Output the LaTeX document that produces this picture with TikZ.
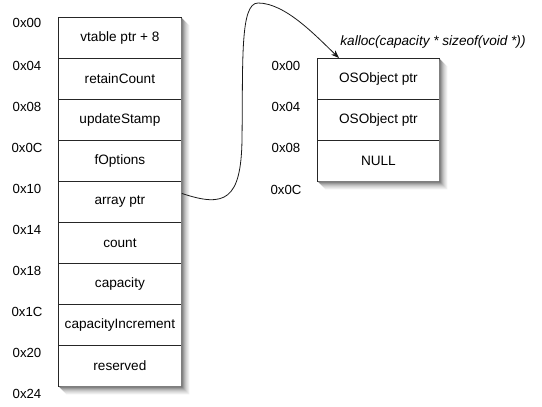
\documentclass[tikz,border=0pt]{standalone}
\usepackage{fontspec}
\setmainfont{Liberation Sans}
\usetikzlibrary{arrows.meta,positioning}
\begin{document}
\begin{tikzpicture}[x=1pt,y=-1pt,
  cell/.style={draw=black!85,line width=0.8pt,fill=white,minimum width=123pt,minimum height=41pt,inner sep=0pt,anchor=north west,font=\fontsize{13.6}{15}\selectfont},
  addr/.style={font=\fontsize{13.2}{15}\selectfont,anchor=center},
  ptr/.style={line width=0.8pt,black!90,-{Stealth[length=8pt,width=6pt]}}]
\useasboundingbox (0,0) rectangle (542,407);
% left table
\node[cell] (c0) at (58,17) {vtable ptr + 8};
\node[cell] (c1) at (58,58) {retainCount};
\node[cell] (c2) at (58,99) {updateStamp};
\node[cell] (c3) at (58,140) {fOptions};
\node[cell] (c4) at (58,181) {array ptr};
\node[cell] (c5) at (58,222) {count};
\node[cell] (c6) at (58,263) {capacity};
\node[cell] (c7) at (58,304) {capacityIncrement};
\node[cell] (c8) at (58,345) {reserved};
\node[addr] (a0) at (27,23) {0x00};
\node[addr] (a1) at (27,66) {0x04};
\node[addr] (a2) at (27,107) {0x08};
\node[addr] (a3) at (27,148) {0x0C};
\node[addr] (a4) at (27,189) {0x10};
\node[addr] (a5) at (27,230) {0x14};
\node[addr] (a6) at (27,271) {0x18};
\node[addr] (a7) at (27,312) {0x1C};
\node[addr] (a8) at (27,353) {0x20};
\node[addr] (a9) at (27,394) {0x24};
% right table
\node[cell,minimum width=122pt] (r0) at (317,58) {OSObject ptr};
\node[cell,minimum width=122pt] (r1) at (317,99) {OSObject ptr};
\node[cell,minimum width=122pt] (r2) at (317,140) {NULL};
\node[addr] (b0) at (286,66) {0x00};
\node[addr] (b1) at (286,107) {0x04};
\node[addr] (b2) at (286,148) {0x08};
\node[addr] (b3) at (286,190) {0x0C};
% soft drop shadows, drawn outside the tables (L-shaped bands)
\foreach \k/\shd in {8/6,7/10,6/15,5/21,4/28,3/36,2/45,1/55} {
  \fill[black!\shd] (181.4,17+\k) rectangle (181.4+\k,386.4+\k)
                    (58+\k,386.4) rectangle (181.4+\k,386.4+\k);
  \fill[black!\shd] (439.4,58+\k) rectangle (439.4+\k,181.4+\k)
                    (317+\k,181.4) rectangle (439.4+\k,181.4+\k);
}
\node[font=\fontsize{13.6}{15}\selectfont\itshape] (lbl) at (433,42) {kalloc(capacity * sizeof(void *))};
% connector
\coordinate (s) at ([yshift=8.5pt]c4.east);
\coordinate (t) at ([xshift=22pt]r0.north west);
\draw[ptr] (s) .. controls (225,208) and (241,200) .. (242,140)
  .. controls (243,60) and (240,3) .. (258,3)
  .. controls (285,3) and (315,35) .. (t);
\end{tikzpicture}
\end{document}
